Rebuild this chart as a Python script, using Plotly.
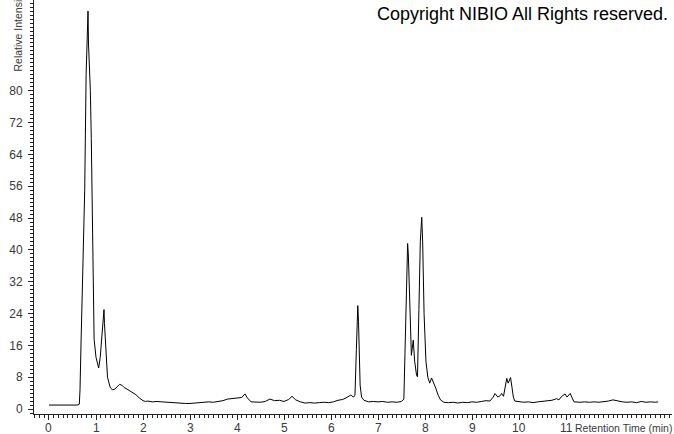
import plotly.graph_objects as go

# Retention time (min) and relative intensity
time_min = [
    0.00, 0.10, 0.20, 0.30, 0.40, 0.50, 0.60, 0.645, 0.66, 0.68, 0.71, 0.73, 0.76,
    0.79, 0.80, 0.815, 0.83, 0.84, 0.855, 0.87, 0.88, 0.90, 0.915, 0.935, 0.96,
    1.00, 1.057, 1.09, 1.12, 1.15, 1.17, 1.18, 1.19, 1.21, 1.245, 1.30, 1.35,
    1.40, 1.45, 1.50, 1.55, 1.60, 1.66, 1.72, 1.79, 1.85, 1.92, 2.00,
    2.05, 2.10, 2.20, 2.30, 2.40, 2.50, 2.60, 2.70, 2.80, 2.90, 3.00, 3.10,
    3.20, 3.30, 3.40, 3.50, 3.60, 3.70, 3.80, 3.90, 4.00, 4.10, 4.17, 4.22,
    4.30, 4.40, 4.50, 4.60, 4.70, 4.80, 4.90, 5.00, 5.10, 5.17, 5.25, 5.35,
    5.45, 5.55, 5.65, 5.75, 5.85, 5.95, 6.05, 6.15, 6.25, 6.32, 6.42, 6.48,
    6.51, 6.54, 6.56, 6.57, 6.585, 6.60, 6.62, 6.65, 6.70, 6.80, 6.90, 7.00,
    7.10, 7.20, 7.30, 7.40, 7.50, 7.55, 7.58, 7.61, 7.63, 7.645, 7.67, 7.70,
    7.71, 7.75, 7.78, 7.82, 7.84, 7.87, 7.90, 7.93, 7.95, 7.98, 8.02, 8.06,
    8.10, 8.14, 8.18, 8.23, 8.28, 8.33, 8.40, 8.50, 8.60, 8.70, 8.80, 8.90,
    9.00, 9.10, 9.20, 9.30, 9.38, 9.45, 9.49, 9.55, 9.60, 9.63, 9.67, 9.71,
    9.74, 9.77, 9.80, 9.82, 9.85, 9.88, 9.91, 10.00, 10.10, 10.20, 10.30,
    10.40, 10.50, 10.60, 10.70, 10.80, 10.85, 10.90, 10.95, 10.98, 11.02,
    11.06, 11.09, 11.13, 11.17, 11.30, 11.40, 11.50, 11.60, 11.70, 11.80,
    11.90, 12.00, 12.10, 12.20, 12.30, 12.40, 12.50, 12.60, 12.70, 12.80,
    12.90, 12.96,
]
intensity = [
    1.0, 1.0, 1.1, 1.0, 1.0, 1.1, 1.0, 1.2, 4.8, 15.6, 30.6, 35.0, 55.0,
    84.0, 88.0, 98.0, 100.0, 92.0, 88.0, 85.0, 80.0, 68.0, 52.0, 30.0, 17.5,
    13.0, 10.3, 13.0, 17.0, 22.0, 25.0, 21.5, 19.0, 13.0, 8.0, 5.5, 4.8,
    5.0, 5.6, 6.2, 6.0, 5.4, 5.0, 4.6, 4.2, 3.6, 2.8, 2.1,
    1.9, 2.0, 1.8, 1.9, 1.8, 1.7, 1.6, 1.5, 1.4, 1.4, 1.4, 1.5,
    1.6, 1.7, 1.8, 1.7, 1.9, 2.1, 2.5, 2.6, 2.7, 2.9, 3.8, 2.8,
    1.8, 1.7, 1.7, 1.9, 2.5, 2.1, 2.2, 1.9, 2.4, 3.2, 2.3, 1.8,
    1.5, 1.6, 1.5, 1.6, 1.7, 1.6, 1.8, 2.2, 2.4, 2.8, 3.5, 3.0,
    3.5, 15.0, 24.0, 26.0, 22.0, 14.0, 6.0, 3.0, 2.2, 1.8, 1.9, 1.8,
    1.9, 1.7, 1.8, 1.7, 1.9, 2.5, 20.0, 38.0, 41.6, 39.0, 28.0, 15.0,
    13.5, 17.3, 12.0, 8.5, 8.1, 25.0, 42.0, 48.2, 42.0, 24.0, 12.0, 8.0,
    6.5, 7.8, 6.8, 5.2, 3.5, 2.3, 1.7, 1.6, 1.7, 1.5, 1.7, 1.6,
    1.8, 1.7, 1.9, 2.1, 2.0, 3.0, 3.9, 3.0, 3.4, 3.9, 3.2, 6.0,
    7.7, 6.5, 7.4, 7.9, 5.5, 3.0, 2.0, 1.8, 1.7, 1.8, 1.6,
    1.8, 1.9, 2.0, 2.2, 2.6, 2.3, 3.1, 3.7, 3.8, 3.0,
    3.5, 3.9, 2.8, 1.8, 1.7, 1.8, 1.7, 1.8, 1.7, 1.8,
    2.0, 2.3, 2.0, 1.8, 1.7, 1.8, 1.6, 1.9, 1.7, 1.8,
    1.7, 1.8,
]

x_tick_values = list(range(0, 12))
x_tick_labels = [str(v) for v in x_tick_values]
y_tick_values = [0, 8, 16, 24, 32, 40, 48, 56, 64, 72, 80]

fig = go.Figure()
fig.add_trace(go.Scatter(
    x=time_min, y=intensity, mode="lines",
    line=dict(color="black", width=1),
    hoverinfo="skip", showlegend=False,
))

font_family = "Liberation Sans, Arial, sans-serif"
label_color = "#3a3a3a"

annotations = [
    dict(text="Copyright NIBIO All Rights reserved.",
         xref="paper", yref="paper", x=0.7657, y=0.966,
         xanchor="center", yanchor="middle", showarrow=False,
         font=dict(family=font_family, size=18, color="black")),
    dict(text="Retention Time (min)",
         xref="paper", yref="paper", x=1.003, y=-0.0338,
         xanchor="right", yanchor="middle", showarrow=False,
         font=dict(family=font_family, size=10.5, color=label_color)),
    dict(text="Relative Intensity", textangle=-90,
         xref="paper", yref="paper", x=-0.025, y=0.8213,
         xanchor="center", yanchor="bottom", showarrow=False,
         font=dict(family=font_family, size=10.5, color=label_color)),
]
# x tick labels placed just below the axis
for v, lab in zip(x_tick_values, x_tick_labels):
    annotations.append(dict(
        text=lab, xref="x", yref="paper", x=v, y=-0.0338,
        xanchor="center", yanchor="middle", showarrow=False,
        font=dict(family=font_family, size=12, color=label_color)))

fig.update_layout(
    width=674, height=434,
    margin=dict(l=34, r=2, t=0, b=20, autoexpand=False),
    paper_bgcolor="white", plot_bgcolor="white",
    font=dict(family=font_family, size=12, color=label_color),
    xaxis=dict(
        range=[-0.319, 13.255],
        tickmode="array", tickvals=x_tick_values, showticklabels=False,
        ticks="outside", ticklen=5, tickcolor="#222222", tickwidth=1,
        minor=dict(dtick=0.1, tick0=0, ticks="outside", ticklen=3,
                   tickcolor="#222222", tickwidth=1, showgrid=False),
        showline=True, linecolor="#222222", linewidth=1,
        showgrid=False, zeroline=False, automargin=False,
    ),
    yaxis=dict(
        range=[-1.25, 102.8],
        tickmode="array", tickvals=y_tick_values,
        ticks="outside", ticklen=5, tickcolor="#222222", tickwidth=1,
        ticklabelstandoff=3,
        minor=dict(dtick=1, tick0=0, ticks="outside", ticklen=3,
                   tickcolor="#222222", tickwidth=1, showgrid=False),
        showline=True, linecolor="#222222", linewidth=1,
        showgrid=False, zeroline=False, automargin=False,
        tickfont=dict(size=12, color=label_color),
    ),
    annotations=annotations,
)

fig.write_html(
    "out.html",
    config={"displayModeBar": False},
    post_script="document.body.style.margin='0px';document.body.style.overflow='hidden';",
)
